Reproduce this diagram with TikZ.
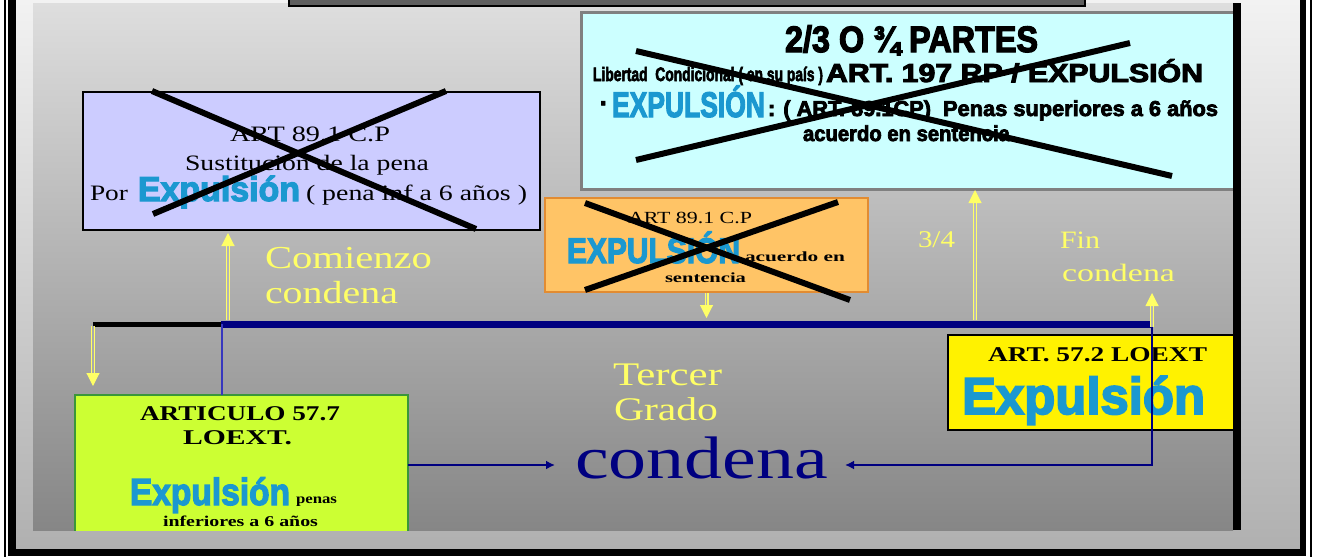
\documentclass[tikz,border=0pt]{standalone}
\usepackage{fontspec}
\setmainfont{Liberation Serif}
\setsansfont{Liberation Sans}[BoldFeatures={FakeBold=3.5}]
\usetikzlibrary{arrows.meta,calc}
\definecolor{purplec}{RGB}{204,204,255}
\definecolor{cyanc}{RGB}{204,255,255}
\definecolor{cyand}{RGB}{128,128,128}
\definecolor{orangec}{RGB}{255,196,102}
\definecolor{oranged}{RGB}{226,140,50}
\definecolor{greenc}{RGB}{204,255,51}
\definecolor{greend}{RGB}{58,150,58}
\definecolor{expblue}{RGB}{27,152,208}
\definecolor{ylw}{RGB}{255,255,102}
\definecolor{navyc}{RGB}{0,0,128}
\definecolor{bluec}{RGB}{55,55,190}
\definecolor{topbox}{RGB}{95,95,95}
\definecolor{outtop}{RGB}{242,242,242}
\definecolor{outbot}{RGB}{176,176,176}
\definecolor{sltop}{RGB}{222,222,222}
\definecolor{slbot}{RGB}{134,134,134}
\definecolor{bga}{RGB}{170,170,170}
\definecolor{bgb}{RGB}{180,180,180}
\definecolor{bgc}{RGB}{185,185,185}
\newcommand\ft[3]{\resizebox{#1pt}{\height}{\fontsize{#2pt}{#2pt}\selectfont #3}}
\newcommand\imp[3]{\resizebox{#1pt}{1.08\height}{\fontsize{#2pt}{#2pt}\selectfont\sffamily\bfseries #3}}
\begin{document}
\begin{tikzpicture}[x=1pt,y=-1pt,
  txt/.style={anchor=base west,inner sep=0pt,outer sep=0pt},
  box/.style={draw,rectangle,anchor=north west,inner sep=0pt,outer sep=0pt},
  xline/.style={black,line width=6pt},
  yarr/.style={draw=ylw,line width=1.1pt,double=#1,double distance=1.8pt,
    -{Triangle[length=13pt,width=13pt,fill=ylw]}},
  narr/.style={draw=navyc,line width=2.2pt,-{Latex[length=9pt,width=9pt]}}]
\useasboundingbox (0,0) rectangle (1319,557);
% outer frame
\fill[white] (0,0) rectangle (1319,557);
\shade[top color=outtop,bottom color=outbot] (16,0) rectangle (1300,549);
\fill[black] (4,0) rectangle (6,557);
\fill[black] (8,0) rectangle (16,556);
\fill[black] (1300,0) rectangle (1306,556);
\fill[black] (1310,0) rectangle (1312,557);
\fill[black] (8,549) rectangle (1306,556);
% slide
\begin{scope}
\clip (33,3) rectangle (1233,530);
\shade[top color=sltop,bottom color=slbot] (33,3) rectangle (1233,530);
% boxes
\node[box,fill=purplec,line width=1.2pt,minimum width=457pt,minimum height=138pt] (purple) at (83,92) {};
\node[box,fill=cyanc,draw=cyand,line width=3pt,minimum width=660pt,minimum height=177pt] (cyan) at (581,12) {};
\node[box,fill=orangec,draw=oranged,line width=1.5pt,minimum width=323pt,minimum height=94pt] (orange) at (545,198) {};
\node[box,fill=yellow,line width=1.2pt,minimum width=292pt,minimum height=95pt] (ybox) at (948,335) {};
\node[box,fill=greenc,draw=greend,line width=1.5pt,minimum width=333pt,minimum height=140pt] (green) at (75,395) {};
% purple texts
\node[txt] (p1) at (230,141) {\ft{160}{22}{ART 89.1 C.P}};
\node[txt] (p2) at (185,170) {\ft{244}{22}{Sustitución de la pena}};
\node[txt] (p3) at (90,200) {\ft{38}{22}{Por}};
\node[txt,text=expblue] (p4) at (138,201) {\imp{162}{32}{Expulsión}};
\node[txt] (p5) at (306,200) {\ft{221}{22}{( pena inf a 6 años )}};
% cyan texts
\node[txt] (c1) at (785,52) {\imp{253}{34}{2/3 O ¾ PARTES}};
\node[txt] (c2) at (593,81) {\imp{230}{18}{Libertad\ \ Condicional ( en su país )}};
\node[txt] (c3) at (826,82) {\imp{377}{24}{ART. 197 RP / EXPULSIÓN}};
\node[txt] (c4) at (600,112) {\imp{8}{24}{·}};
\node[txt,text=expblue] (c5) at (612,117) {\imp{153}{33}{EXPULSIÓN}};
\node[txt] (c6) at (768,116) {\imp{450}{20}{: ( ART. 89.1CP)\ \ Penas superiores a 6 años}};
\node[txt] (c7) at (803,141) {\imp{207}{20}{acuerdo en sentencia}};
% orange texts
\node[txt] (o1) at (628,223) {\ft{124}{17}{ART 89.1 C.P}};
\node[txt,text=expblue] (o2) at (567,263) {\imp{173}{33}{EXPULSIÓN}};
\node[txt] (o3) at (745,261) {\ft{100}{14}{\bfseries acuerdo en}};
\node[txt] (o4) at (665,282) {\ft{81}{14}{\bfseries sentencia}};
% green texts
\node[txt] (g1) at (140,420) {\ft{200}{21}{\bfseries ARTICULO 57.7}};
\node[txt] (g2) at (183,444) {\ft{109}{21}{\bfseries LOEXT.}};
\node[txt,text=expblue] (g3) at (130,505) {\imp{160}{35}{Expulsión}};
\node[txt] (g4) at (296,503) {\ft{41}{14}{\bfseries penas}};
\node[txt] (g5) at (163,526) {\ft{155}{15}{\bfseries inferiores a 6 años}};
% yellow box texts
\node[txt] (y1) at (988,361) {\ft{219}{21}{\bfseries ART. 57.2 LOEXT}};
\node[txt,text=expblue] (y2) at (962,414) {\imp{243}{48}{Expulsión}};
% free texts
\node[txt,text=ylw] (com) at (265,268) {\ft{167}{32}{Comienzo}};
\node[txt,text=ylw] (com2) at (265,303) {\ft{133}{32}{condena}};
\node[txt,text=ylw] (ter) at (613,385) {\ft{109}{33}{Tercer}};
\node[txt,text=ylw] (gra) at (614,420) {\ft{104}{33}{Grado}};
\node[txt,text=navyc] (cond) at (575,478) {\ft{253}{60}{condena}};
\node[txt,text=ylw] (tq) at (918,247) {\ft{37}{24}{3/4}};
\node[txt,text=ylw] (fin) at (1060,248) {\ft{40}{25}{Fin}};
\node[txt,text=ylw] (fin2) at (1062,281) {\ft{113}{25}{condena}};
% crosses
\draw[xline] (152,91) -- (476,229);
\draw[xline] (153,214) -- (446,91);
\draw[xline] (636,51) -- (1172,176);
\draw[xline] (636,160) -- (1130,43);
\draw[xline] (585,203) -- (850,300);
\draw[xline] (585,290) -- (838,202);
% lines
\coordinate (lb) at (93,324);
\coordinate (ll) at (222,324);
\coordinate (lr) at (1152,324);
\coordinate (ydown) at (93,386);
\coordinate (cstart) at (228,320);
\coordinate (tqs) at (975,320);
\coordinate (fint) at (1152,293);
\draw[black,line width=5pt] (lb) -- (ll);
\draw[navyc,line width=7pt] ([xshift=-1pt]ll) -- ([xshift=1pt]lr);
\draw[bluec,line width=2.5pt] (ll) -- (ll |- green.north);
\draw[narr,shorten >=17pt] (lr) |- (cond.east |- green.east);
\draw[narr,shorten >=20pt] (green.east) -- (green.east -| cond.west);
% yellow arrows
\draw[yarr=bga] ([yshift=-2pt]lb) -- (ydown);
\draw[yarr=bgb,shorten >=3pt] (cstart) -- (cstart |- purple.south);
\draw[yarr=bgb,shorten <=1pt,shorten >=2pt] (orange.south) -- (orange.south |- cstart);
\draw[yarr=bgc,shorten >=1pt] (tqs) -- (tqs |- cyan.south);
\draw[yarr=bgb] ([yshift=-3pt]lr) -- (fint);
\end{scope}
\fill[black] (1233,3) rectangle (1241,530);
% top box
\draw[black,line width=1.5pt,fill=topbox] (289,-5) rectangle (1085,6);
\end{tikzpicture}
\end{document}
